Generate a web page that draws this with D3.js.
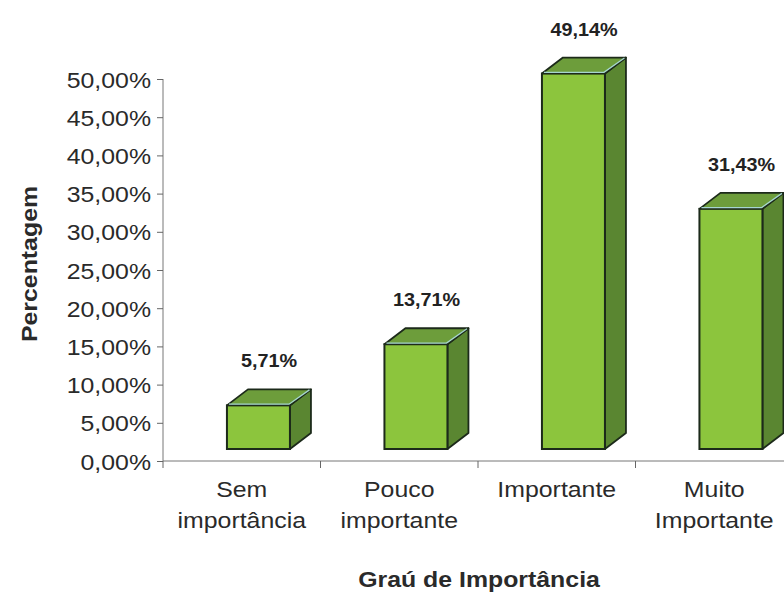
<!DOCTYPE html>
<html><head><meta charset="utf-8">
<script src="https://cdn.jsdelivr.net/npm/d3@7"></script>
<style>
html,body{margin:0;padding:0;background:#fff;}
svg{display:block;font-family:"Liberation Sans",Arial,sans-serif;}
</style></head>
<body>
<svg id="c" width="784" height="592"></svg>
<script>
// ---- data ----
const categories = ["Sem importância", "Pouco importante", "Importante", "Muito Importante"];
const values = [5.71, 13.71, 49.14, 31.43];
const yTicks = [0, 5, 10, 15, 20, 25, 30, 35, 40, 45, 50];
const yTitle = "Percentagem";
const xTitle = "Graú de Importância";

// ---- layout ----
const svg = d3.select("#c");
const SX = 1.13; // horizontal glyph stretch
const x = d3.scaleBand().domain(categories).range([163, 793]).padding(0);
const y = d3.scaleLinear().domain([0, 50]).range([461, 79]);
const bw = x.bandwidth();
const depthX = 21, depthY = 16, lift = 12;
const fmt = d => d.toFixed(2).replace(".", ",") + "%";

const colFront = "#8cc53d", colTop = "#6d9d3b", colSide = "#5a8631", colEdge = "#1c2a1a";

// y axis
const yAxis = svg.append("g").attr("transform", "translate(163,0)")
  .call(d3.axisLeft(y).tickValues(yTicks).tickSize(6).tickFormat(fmt));
yAxis.select(".domain").attr("stroke", "#777").attr("d", `M0,${y(50)}V${y(0)}`);
yAxis.selectAll(".tick line").attr("stroke", "#666");
yAxis.selectAll(".tick text")
  .attr("x", 0).attr("dy", 0)
  .attr("transform", `translate(-12,8) scale(${SX},1)`)
  .style("font-size", "22px").attr("fill", "#2a2a2a");
yAxis.attr("font-family", null).attr("font-size", null);

// x axis line + ticks
svg.append("line").attr("x1", 163).attr("x2", 784).attr("y1", y(0)).attr("y2", y(0))
  .attr("stroke", "#777").attr("stroke-width", 1);
svg.selectAll(".xt").data(categories).join("line").attr("class", "xt")
  .attr("x1", d => x(d)).attr("x2", d => x(d))
  .attr("y1", y(0)).attr("y2", y(0) + 7).attr("stroke", "#666");

// bars
const bars = svg.selectAll(".bar").data(values.map((v, i) => ({c: categories[i], v})))
  .join("g").attr("class", "bar");
bars.each(function(d) {
  const g = d3.select(this);
  const x0 = x(d.c) + bw * 0.406, w = bw * 0.40;
  const yb = y(0) - lift, yt = y(d.v) - lift;
  const x1 = x0 + w;
  // right side
  g.append("path").attr("d", `M${x1},${yt}L${x1 + depthX},${yt - depthY}L${x1 + depthX},${yb - depthY}L${x1},${yb}Z`)
    .attr("fill", colSide).attr("stroke", colEdge).attr("stroke-width", 1.8).attr("stroke-linejoin", "round");
  // top
  g.append("path").attr("d", `M${x0},${yt}L${x0 + depthX},${yt - depthY}L${x1 + depthX},${yt - depthY}L${x1},${yt}Z`)
    .attr("fill", colTop).attr("stroke", colEdge).attr("stroke-width", 1.8).attr("stroke-linejoin", "round");
  // front
  g.append("rect").attr("x", x0).attr("y", yt).attr("width", w).attr("height", yb - yt)
    .attr("fill", colFront).attr("stroke", colEdge).attr("stroke-width", 2);
  // highlight edges
  g.append("path").attr("d", `M${x0 + 2},${yt - 1.2}L${x1 - 1},${yt - 1.2}L${x1 + depthX - 1.5},${yt - depthY + 0.5}`)
    .attr("fill", "none").attr("stroke", "#a6d6cf").attr("stroke-width", 1.3);
  // value label
  g.append("text")
    .attr("transform", `translate(${x0 + (w + depthX) / 2},${yt - depthY - 22}) scale(${SX - 0.03},1)`)
    .attr("text-anchor", "middle").style("font-size", "18px").style("font-weight", "bold")
    .attr("fill", "#222").text(fmt(d.v));
});

// category labels
const cl = svg.selectAll(".cl").data(categories).join("text").attr("class", "cl")
  .attr("text-anchor", "middle").style("font-size", "22px").attr("fill", "#2a2a2a");
cl.each(function(d) {
  const t = d3.select(this);
  t.attr("transform", `translate(${x(d) + bw / 2},497) scale(${SX},1)`);
  d.split(" ").forEach((line, i) => {
    t.append("tspan").attr("x", 0).attr("y", i * 31).text(line);
  });
});

// axis titles
svg.append("text").attr("transform", `translate(479,587) scale(${SX},1)`)
  .attr("text-anchor", "middle").style("font-size", "22px").style("font-weight", "bold")
  .attr("fill", "#2a2a2a").text(xTitle);
svg.append("text").attr("transform", `translate(37,264) rotate(-90) scale(${SX},1)`)
  .attr("text-anchor", "middle").style("font-size", "22px").style("font-weight", "bold")
  .attr("fill", "#2a2a2a").text(yTitle);
</script>
</body></html>
